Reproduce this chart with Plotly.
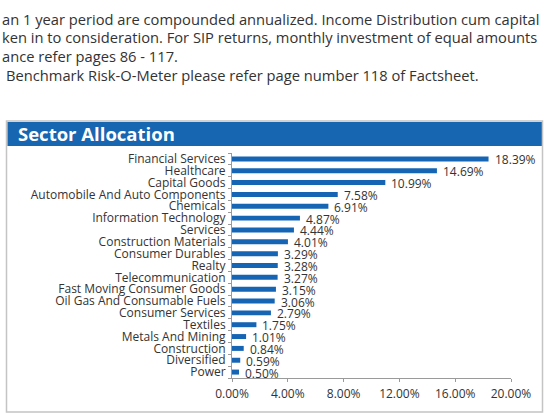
import plotly.graph_objects as go

categories = [
    "Financial Services", "Healthcare", "Capital Goods",
    "Automobile And Auto Components", "Chemicals", "Information Technology",
    "Services", "Construction Materials", "Consumer Durables", "Realty",
    "Telecommunication", "Fast Moving Consumer Goods",
    "Oil Gas And Consumable Fuels", "Consumer Services", "Textiles",
    "Metals And Mining", "Construction", "Diversified", "Power",
]
values = [18.39, 14.69, 10.99, 7.58, 6.91, 4.87, 4.44, 4.01, 3.29, 3.28,
          3.27, 3.15, 3.06, 2.79, 1.75, 1.01, 0.84, 0.59, 0.50]
x_ticks = [0, 0.04, 0.08, 0.12, 0.16, 0.20]
header_text = "Sector Allocation"
top_lines = [
    "an 1 year period are compounded annualized. Income Distribution cum capital",
    "ken in to consideration. For SIP returns, monthly investment of equal amounts",
    "ance refer pages 86 - 117.",
    "Benchmark Risk-O-Meter please refer page number 118 of Factsheet.",
]

W, H = 547, 413
L, R, T, B = 232, 511, 153, 378

def px(xp):
    return (xp - L) / (R - L)

def py(yp):
    return (B - yp) / (B - T)

FONT = "Open Sans"
TXT = "#333333"
BLUE = "#1766b1"

fig = go.Figure()
fig.add_trace(go.Bar(
    y=categories,
    x=[v / 100 for v in values],
    orientation="h",
    marker=dict(color="#1565b4", line=dict(width=0)),
    width=0.42,
    hoverinfo="skip",
))

shapes = [
    dict(type="rect", xref="paper", yref="paper",
         x0=px(6.5), x1=px(542.5), y0=py(412), y1=py(121),
         line=dict(color="#c4c4c4", width=1.5), fillcolor="rgba(0,0,0,0)",
         layer="below"),
    dict(type="rect", xref="paper", yref="paper",
         x0=px(7.5), x1=px(541.8), y0=py(146), y1=py(122),
         line=dict(width=0), fillcolor=BLUE, layer="below"),
]

annotations = [
    dict(text="<b>" + header_text + "</b>", xref="paper", yref="paper",
         x=px(16), y=py(134), xanchor="left", yanchor="middle",
         showarrow=False, font=dict(family=FONT, size=18.5, color="white")),
]
line_y = [19, 37.5, 56, 75]
line_x = [0, 0, 0, 4]
for t, yy, xx in zip(top_lines, line_y, line_x):
    annotations.append(dict(
        text=t, xref="paper", yref="paper", x=px(xx), y=py(yy),
        xanchor="left", yanchor="middle", showarrow=False,
        font=dict(family=FONT, size=14.7, color=TXT)))

for c, v in zip(categories, values):
    annotations.append(dict(
        text=f"{v:.2f}%", x=v / 100, y=c, xref="x", yref="y",
        xanchor="left", yanchor="middle", xshift=4, yshift=-1,
        showarrow=False, font=dict(family=FONT, size=12, color=TXT)))

n = len(categories)
fig.update_layout(
    width=W, height=H,
    margin=dict(l=L, r=W - R, t=T, b=H - B, pad=0, autoexpand=False),
    paper_bgcolor="white", plot_bgcolor="white",
    showlegend=False,
    font=dict(family=FONT, size=12, color=TXT),
    shapes=shapes,
    annotations=annotations,
    xaxis=dict(
        range=[0, 0.20], tickvals=x_ticks, tickformat=".2%",
        showgrid=False, zeroline=False, showline=True,
        linecolor="#9a9a9a", linewidth=1,
        ticks="outside", ticklen=3, tickcolor="#9a9a9a",
        ticklabelstandoff=2, automargin=False,
        tickfont=dict(family=FONT, size=12, color=TXT),
        fixedrange=True,
    ),
    yaxis=dict(
        type="category", range=[n - 0.5, -0.5], autorange=False,
        tickmode="array", tickvals=categories, ticktext=categories,
        showgrid=False, zeroline=False, showline=True,
        linecolor="#9a9a9a", linewidth=1,
        ticks="outside", ticklen=3, tickcolor="#9a9a9a",
        tickson="boundaries", ticklabelstandoff=3, automargin=False,
        tickfont=dict(family=FONT, size=12, color=TXT),
        fixedrange=True,
    ),
)

fig.write_html(
    "out.html",
    config={"displayModeBar": False, "staticPlot": True},
    post_script="document.body.style.margin='0';document.body.style.overflow='hidden';",
)
